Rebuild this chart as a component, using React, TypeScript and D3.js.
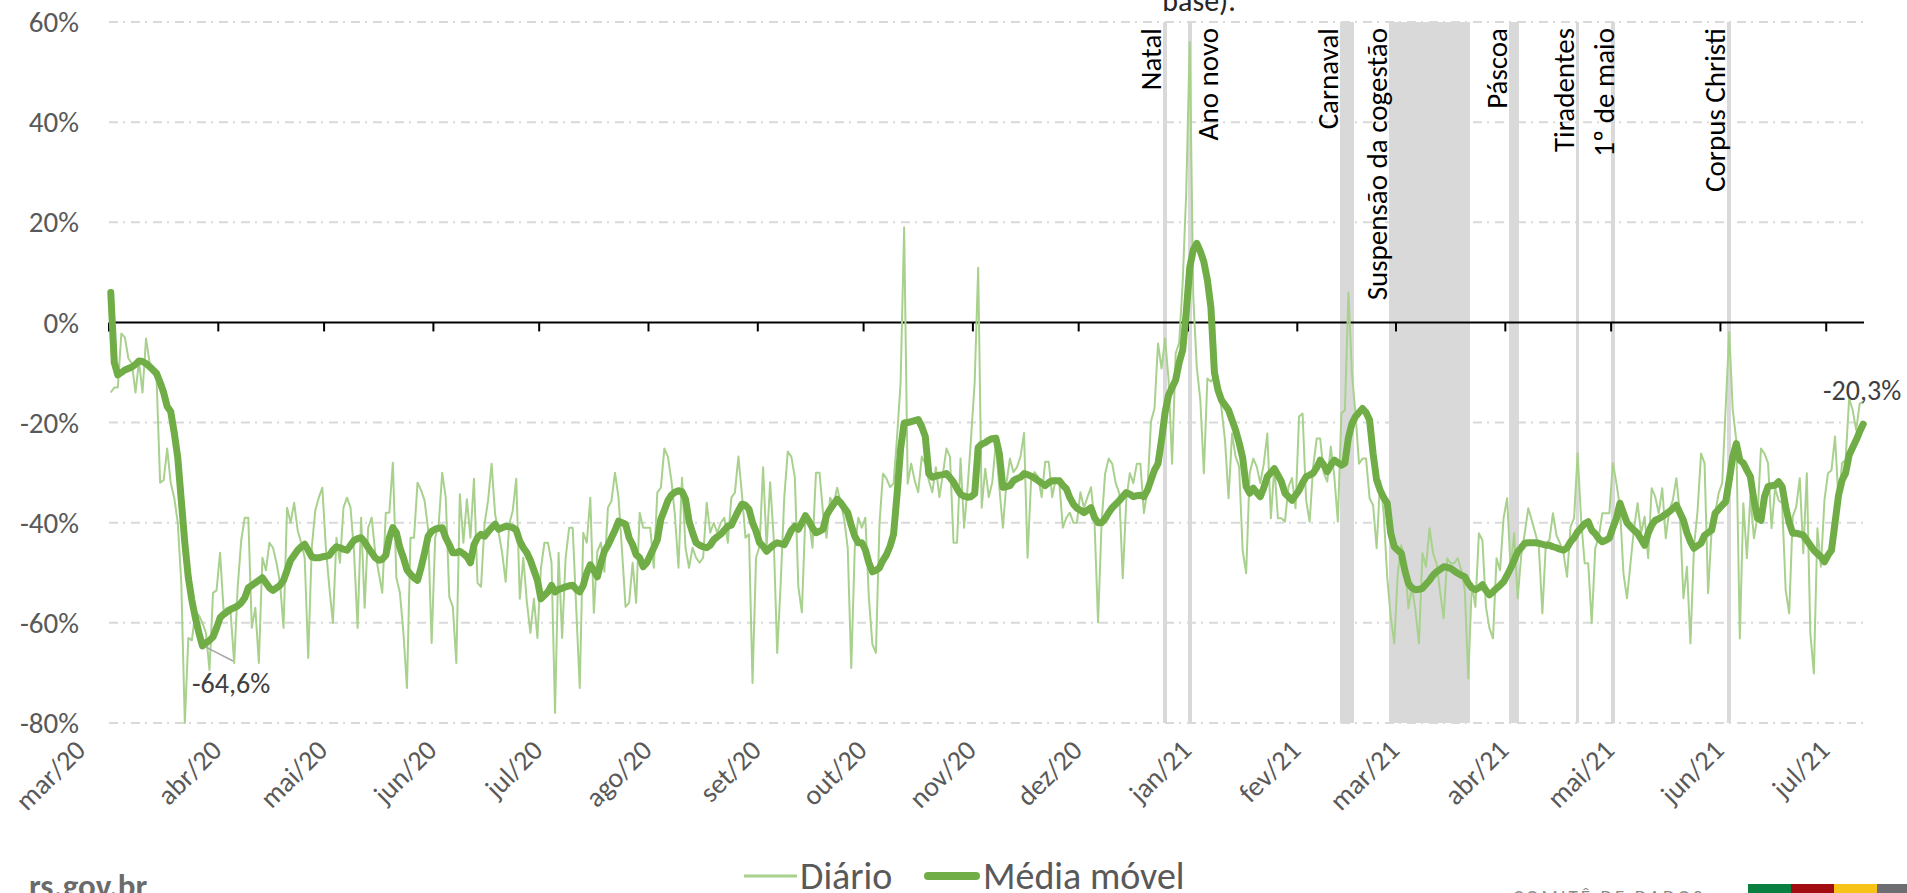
import React from 'react';
import * as d3 from 'd3';

const DAY = 86400000;
const START = Date.UTC(2020, 2, 1);
const END = Date.UTC(2021, 6, 12);

// Variação diária (%), um valor por dia a partir de 01/03/2020
const diario: number[] = [
  -14, -13, -13, -2.2, -3, -7.2, -8.2, -14, -7.8, -14, -3.2, -8, -10, -11.5, -32, -31.5, -25.2, -32, -35, -40,
  -52, -80, -63, -63.5, -57.8, -58.5, -60, -62, -69.4, -54, -53.5, -46, -57.5, -57, -58, -68, -52.8, -43.5, -39, -39,
  -61, -57, -68, -47, -49.5, -44, -45, -48, -52, -61, -37, -40, -36, -41.5, -44, -47, -67, -45, -37.5, -35,
  -33, -45, -53, -60, -43, -48, -37, -35, -37, -46, -61, -39, -57, -41, -39, -46, -50, -54, -38, -38,
  -28, -51, -54, -62, -73, -43, -43, -32, -33.5, -35.6, -41.3, -64, -43, -40.3, -30, -35, -54.8, -56.8, -68, -34.3,
  -44, -35.3, -43, -31.2, -52, -52.8, -40.3, -35.6, -28.2, -38.3, -42, -46, -51.8, -40.3, -37.6, -31.2, -55.2, -47, -55.8, -62,
  -55.2, -63, -49, -44, -44, -48, -78, -46, -63, -47, -41, -41, -57, -73, -42, -44, -35, -58, -45.7, -44,
  -49.8, -37, -35.6, -30, -35, -45.7, -56.8, -56, -48, -56, -38, -41, -41, -41, -49, -34, -33, -25.2, -26.8, -31.6,
  -38.6, -49, -31, -45, -49, -45, -47, -48, -47, -36, -42, -40, -42, -40, -39, -44, -35, -34, -26.8, -34.3,
  -43, -42.3, -72, -47, -44.7, -28.9, -45, -31.9, -43, -66, -52, -35, -25.8, -26.8, -30.9, -52.8, -57.9, -38.3, -39.3, -45,
  -30, -30, -38, -43, -35, -36.3, -33, -36, -39.3, -45, -69, -45, -39, -41, -39, -55, -64.3, -66, -40.3, -30.2,
  -31.2, -32.9, -32.2, -22.8, -12, 19, -32.2, -28.2, -31.6, -33.9, -26.8, -28.2, -31.6, -33.9, -28.9, -34.9, -30.2, -25.2, -26.8, -44,
  -44, -27.2, -41, -32.9, -22.8, -12, 10.9, -37, -29.2, -34.9, -31.9, -24.1, -32.9, -41, -32.2, -27.2, -29.9, -28.9, -26.8, -22.1,
  -47, -31.6, -29.9, -30.9, -34.9, -27.8, -27.8, -34.9, -31.2, -31.9, -41, -39, -38, -40, -40, -33.9, -37, -34.9, -32.9, -40,
  -59.9, -40, -30.2, -27.2, -28.2, -32.1, -34.1, -51.1, -35.5, -30.1, -32.1, -28.2, -28.2, -38.1, -33.5, -19.8, -17.2, -4.2, -9.2, -3.2,
  -11.5, -28.2, -6.2, -4, 8, 26, 56, 5, -9, -15.5, -30.1, -11.2, -11.8, -10.9, -13.5, -17.2, -23.5, -35.1, -22.2, -26.8,
  -28.8, -45.5, -50.1, -30.1, -27.2, -28.8, -32.1, -28.2, -22.2, -39.1, -28.8, -39.1, -39.1, -39.8, -32.8, -31.1, -37.1, -18.8, -18.2, -35.5,
  -39.8, -28.8, -23.2, -23.2, -30.1, -31.8, -24.8, -30.8, -39.8, -18.2, -17.5, 6, -10.2, -18.2, -28.2, -27.2, -27.2, -35.1, -36.5, -45.1,
  -31.5, -38.1, -50.8, -58.8, -64.1, -50.1, -44.5, -47.5, -57.1, -52.8, -57.5, -64.1, -46.1, -48.8, -41.1, -46.1, -48.1, -53.8, -59.1, -47.1,
  -48.1, -48.1, -47.1, -49.5, -53.4, -71.1, -52.1, -56.8, -42.1, -43.5, -56.8, -61.1, -63.1, -47.1, -49.5, -39.1, -35.1, -49.1, -42.1, -55.1,
  -46.5, -42.1, -37.1, -39.5, -42.1, -44.8, -58.1, -44.1, -43.5, -38.1, -42.5, -44.1, -46.1, -50.8, -40.8, -39.1, -26.2, -39.5, -48.1, -48.1,
  -60.1, -45.1, -42.8, -38.1, -38.1, -38.1, -28.1, -32.1, -36.8, -50.1, -55.1, -48.1, -41.1, -36.1, -42.1, -38.8, -47.1, -33.1, -34.8, -38.1,
  -33.1, -43.1, -37.5, -35.5, -31.1, -38.1, -55.1, -48.8, -64.1, -44.8, -37.8, -26.2, -28.1, -54.1, -41.5, -38.1, -34.1, -32.1, -16.8, -1.9,
  -17.5, -23.5, -63.1, -36.1, -47.1, -34.8, -43.1, -38.8, -25.2, -26.2, -28.1, -41.1, -33.1, -35.5, -36.1, -53.4, -58.1, -38.8, -36.8, -31.1,
  -46.1, -30.1, -62.1, -70.1, -41.1, -48.8, -35.5, -30.1, -29.5, -22.8, -35.8, -28.1, -27.5, -15.2, -17.5, -21.5, -16.2, -15.8,
];

// Média móvel (%), um valor por dia a partir de 01/03/2020
const mediaMovel: number[] = [
  6, -8, -10.5, -10, -9.5, -9.2, -8.9, -8.4, -7.7, -7.8, -8.2, -8.8, -9.5, -10.2, -12, -14, -16.8, -17.8, -22, -27,
  -35.5, -44, -51, -55.5, -59, -62, -64.6, -64, -63.5, -62.8, -61, -59, -58.3, -57.8, -57.3, -57, -56.6, -56, -55, -53,
  -52.5, -52, -51.5, -51, -52, -53, -53.5, -53, -52.5, -51.5, -49.5, -47.5, -46.5, -45.5, -44.8, -44.3, -45.5, -46.8, -47, -47,
  -46.8, -46.7, -46.5, -45.5, -44.8, -45, -45.3, -45.5, -44.5, -43.5, -43.2, -43, -43.8, -45, -46, -47, -47.5, -47.3, -46.5, -43,
  -41, -42, -45, -47, -49.4, -50.3, -51, -51.5, -49, -46, -42.7, -41.7, -41.3, -41.1, -41, -43, -44.4, -46, -46, -45.7,
  -46.2, -46.8, -48, -44.4, -43, -42.3, -42.7, -41.8, -41, -40.3, -41.3, -41, -40.7, -40.8, -41, -41.5, -43.7, -45, -46, -47.5,
  -49.5, -51.5, -55.2, -54.5, -53.8, -52.5, -53.8, -53.3, -53.1, -52.8, -52.6, -52.5, -53.3, -53.8, -52.5, -50, -48.4, -49.5, -50.8, -48,
  -45.7, -44.5, -43, -41.5, -39.7, -40, -40.3, -43, -44.4, -46.4, -47, -48.8, -48, -46.5, -45, -43.4, -39.3, -37.5, -35.6, -34.5,
  -33.9, -33.6, -33.8, -35.3, -39.7, -42, -44, -44.5, -44.8, -45, -44.5, -43.4, -42.8, -42.3, -41.5, -40.7, -40.5, -39, -37.6, -36.3,
  -36.5, -37.3, -40, -41.7, -44, -44.7, -45.7, -45, -44.4, -44, -44.2, -44.4, -43, -41.5, -40.7, -41.3, -40, -38.6, -39.7, -41,
  -42, -41.7, -41.3, -38.5, -37.3, -36.3, -35.3, -36, -37, -38, -40.5, -42.7, -44, -44, -45.4, -48, -49.8, -49.5, -49, -47.5,
  -46.4, -44.7, -42.3, -34.3, -25.2, -20.1, -20, -19.8, -19.6, -19.4, -20.8, -22.8, -30.2, -30.9, -30.7, -30.5, -30.4, -30.2, -31, -31.9,
  -33.2, -34.3, -34.7, -34.9, -34.8, -34.2, -25, -24.3, -24, -23.5, -23.2, -23.1, -26.2, -32.9, -32.8, -32.6, -31.6, -31.2, -30.9, -30.2,
  -30.4, -30.7, -31.1, -31.6, -32.1, -32.6, -32, -31.6, -31.6, -31.6, -32.5, -33.2, -35, -36.3, -37.1, -37.5, -38, -37.5, -37, -39,
  -40, -40, -39.2, -38, -37, -36.3, -35.6, -34.8, -34, -34.3, -34.8, -34.6, -34.5, -34.8, -33.5, -31.5, -29.5, -28.2, -23.5, -18,
  -14.5, -13, -11.5, -8, -5.5, 2, 11, 14.5, 15.8, 14.2, 12.1, 8.5, 3, -10, -13.5, -15.5, -16.5, -17.5, -19.5, -21.5,
  -24, -27, -32.8, -34.1, -33.1, -34, -34.8, -33, -30.8, -30, -29.2, -30.5, -31.8, -34.1, -34.8, -35.5, -34.5, -33.5, -32, -30.8,
  -30.5, -30.1, -29, -27.5, -28.5, -29.8, -28.5, -27.5, -28, -28.5, -28.1, -23, -20.2, -18.8, -18, -17.2, -18, -19.5, -26.2, -31.5,
  -33.5, -35, -36.1, -42.1, -44.8, -45.5, -46.1, -49.5, -52.1, -53, -53.4, -53.3, -53.1, -52.3, -51.5, -50.5, -49.8, -49.3, -48.8, -48.9,
  -49.1, -49.6, -50.1, -50.5, -50.8, -52.1, -53, -53.4, -53, -52.4, -53.5, -54.4, -53.8, -53.1, -52.5, -51.8, -50.5, -49.1, -47.5, -45.8,
  -45, -44.1, -44, -44, -44, -44.1, -44.3, -44.5, -44.5, -44.8, -45, -45.3, -45.5, -45, -43.8, -43, -41.8, -41, -40.2, -39.8,
  -41.5, -42.2, -43.2, -43.8, -43.5, -43.1, -41, -39.1, -36.1, -38.1, -40, -40.8, -41.5, -42.1, -43.3, -44.5, -42.1, -40.5, -39.5, -39.2,
  -38.8, -38.3, -37.8, -37.2, -36.5, -38, -39.5, -42, -43.8, -45.1, -44.6, -44.1, -42.5, -42, -41.5, -38.1, -37.3, -36.5, -35.8, -31.5,
  -26.8, -24.2, -27.5, -28.1, -29.5, -30.8, -35.5, -39.1, -39.5, -34.8, -32.8, -32.6, -32.5, -31.8, -32.8, -36.8, -40, -42.1, -42.1, -42.3,
  -42.5, -43.5, -44.5, -45.5, -46.2, -46.8, -47.8, -46.5, -45.5, -40, -34.5, -31.5, -30.1, -26.5, -25, -23.5, -21.8, -20.3,
];

const monthLabels = ['mar/20', 'abr/20', 'mai/20', 'jun/20', 'jul/20', 'ago/20', 'set/20', 'out/20', 'nov/20', 'dez/20', 'jan/21', 'fev/21', 'mar/21', 'abr/21', 'mai/21', 'jun/21', 'jul/21'];
const yTicks = [60, 40, 20, 0, -20, -40, -60, -80];

const eventLabels = ['Natal', 'Ano novo', 'Carnaval', 'Suspensão da cogestão', 'Páscoa', 'Tiradentes', '1º de maio', 'Corpus Christi'];
const eventStart = ['2020-12-25', '2021-01-01', '2021-02-13', '2021-02-27', '2021-04-02', '2021-04-21', '2021-05-01', '2021-06-03'];
const eventDays = [1, 1, 4, 23, 3, 1, 1, 1];

const annotMin = { day: 26, value: -64.6, text: '-64,6%' };
const annotLast = { day: 497, value: -20.3, text: '-20,3%' };

const FONT = 'Calibri, Carlito, Lato, sans-serif';

export default function App() {
  const W = 1907;
  const H = 893;
  const x = d3.scaleUtc().domain([new Date(START), new Date(END)]).range([109, 1865]);
  const y = d3.scaleLinear().domain([-80, 60]).range([723, 22]);
  const dateOf = (i: number) => new Date(START + i * DAY + DAY / 2);

  const lineGen = d3
    .line<number>()
    .x((_, i) => x(dateOf(i)))
    .y((v) => y(v));

  const months = d3.utcMonth.range(new Date(START), new Date(END));
  const xLeft = 109;
  const xRight = 1864;

  const eventOffsets = (i: number, x0: number, x1: number) => {
    if (i === 1) return x1 + 26.5;
    if (i === 6) return x1 - 0.5;
    return x0 - 2;
  };

  return (
    <svg width={W} height={H} style={{ position: 'absolute', left: 0, top: 0, background: '#fff' }} fontFamily={FONT}>
      <rect x={0} y={0} width={W} height={H} fill="#fff" />
      <text x={1199} y={11} textAnchor="middle" fontSize={30} fill="#262626">base).</text>

      {/* gridlines */}
      {yTicks.filter((t) => t !== 0).map((t) => (
        <line key={'g' + t} x1={xLeft} x2={xRight} y1={y(t)} y2={y(t)} stroke="#d9d9d9" strokeWidth={2} strokeDasharray="9,5,2,6" />
      ))}

      {/* event bands */}
      {eventLabels.map((lab, i) => {
        const s = Date.parse(eventStart[i] + 'T00:00:00Z');
        const x0 = Math.round(x(new Date(s)));
        const x1 = Math.round(x(new Date(s + eventDays[i] * DAY)));
        return <rect key={'b' + i} x={x0} y={Math.round(y(60))} width={Math.max(3, x1 - x0)} height={Math.round(y(-80) - y(60))} fill="#d9d9d9" shapeRendering="crispEdges" />;
      })}

      {/* y tick labels */}
      {yTicks.map((t) => (
        <text key={'yl' + t} x={79} y={y(t)} dy="0.35em" textAnchor="end" fontSize={29} fill="#595959">
          {t + '%'}
        </text>
      ))}

      {/* x axis at 0 */}
      <line x1={xLeft} x2={xRight} y1={y(0)} y2={y(0)} stroke="#000" strokeWidth={2} />
      {months.map((m, i) => (
        <line key={'t' + i} x1={x(m)} x2={x(m)} y1={y(0)} y2={y(0) + 9} stroke="#000" strokeWidth={2} />
      ))}
      {months.map((m, i) => (
        <text key={'xl' + i} transform={`translate(${x(m) + (i === 0 ? -22 : 5)},${752}) rotate(-45)`} textAnchor="end" fontSize={28} fill="#595959">
          {monthLabels[i]}
        </text>
      ))}

      {/* series */}
      <path d={lineGen(diario) || ''} fill="none" stroke="#a9d18e" strokeWidth={2} strokeLinejoin="round" />
      <path d={lineGen(mediaMovel) || ''} fill="none" stroke="#70ad47" strokeWidth={7} strokeLinejoin="round" strokeLinecap="round" />

      {/* event labels */}
      {eventLabels.map((lab, i) => {
        const s = Date.parse(eventStart[i] + 'T00:00:00Z');
        const x0 = x(new Date(s));
        const x1 = x(new Date(s + eventDays[i] * DAY));
        const bx = eventOffsets(i, x0, x1);
        return (
          <text key={'el' + i} transform={`translate(${bx},${28}) rotate(-90)`} textAnchor="end" fontSize={29} fill="#000">
            {lab}
          </text>
        );
      })}

      {/* annotations */}
      <line x1={x(dateOf(annotMin.day)) + 3} y1={y(annotMin.value) + 1} x2={233} y2={661} stroke="#a6a6a6" strokeWidth={1.5} />
      <text x={192} y={693} fontSize={28} fill="#404040">{annotMin.text}</text>
      <text x={1823} y={y(annotLast.value) - 24} fontSize={28} fill="#404040">{annotLast.text}</text>

      {/* legend */}
      <line x1={744} x2={797} y1={876} y2={876} stroke="#a9d18e" strokeWidth={3} />
      <text x={800} y={889} fontSize={38} fill="#595959">Diário</text>
      <line x1={928} x2={976} y1={876} y2={876} stroke="#70ad47" strokeWidth={8} strokeLinecap="round" />
      <text x={983} y={889} fontSize={38} fill="#595959">Média móvel</text>

      {/* footer */}
      <text x={29} y={897} fontSize={33} fontWeight="bold" fill="#6b6b6b">rs.gov.br</text>
      <text x={1513} y={903} fontSize={19} letterSpacing={3} fill="#8a8a8a">COMITÊ DE DADOS</text>
      <rect x={1748} y={884} width={43} height={9} fill="#0b7f3f" />
      <rect x={1791} y={884} width={43} height={9} fill="#a10d11" />
      <rect x={1834} y={884} width={43} height={9} fill="#f7c316" />
      <rect x={1877} y={884} width={30} height={9} fill="#6d6e71" />
    </svg>
  );
}
